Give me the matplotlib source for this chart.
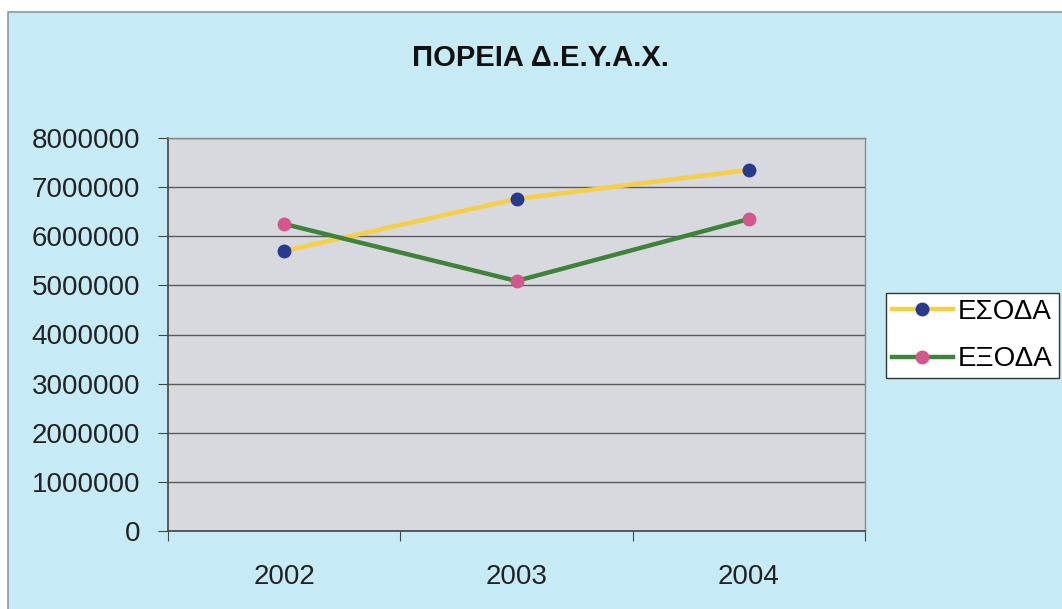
import matplotlib
matplotlib.use("Agg")
import matplotlib.pyplot as plt
from matplotlib.patches import Rectangle

# Data
years = ["2002", "2003", "2004"]
esoda = [5700000, 6760000, 7350000]
exoda = [6250000, 5090000, 6350000]
y_ticks = [0, 1000000, 2000000, 3000000, 4000000, 5000000, 6000000, 7000000, 8000000]

plt.rcParams['font.family'] = ['Liberation Sans', 'DejaVu Sans']

W, H = 1062, 609
fig = plt.figure(figsize=(W / 100, H / 100), dpi=100, facecolor='white')

# chart area background (scanned Excel chart)
bg = Rectangle((8 / W, -0.01), 1.0, 1 - 12 / H + 0.01,
               transform=fig.transFigure, facecolor='#c6ebf7',
               edgecolor='#8a9aa0', linewidth=1.2, zorder=-10)
fig.patches.append(bg)

ax = fig.add_axes([168 / W, 78 / H, 697 / W, 393 / H])
ax.set_facecolor('#d8d8df')

x = list(range(len(years)))
ax.plot(x, esoda, color='#f6cf45', linewidth=3.2, marker='o', markersize=9,
        markerfacecolor='#283a8e', markeredgecolor='#283a8e', label='ΕΣΟΔΑ', zorder=3)
ax.plot(x, exoda, color='#3f8239', linewidth=3.2, marker='o', markersize=9,
        markerfacecolor='#d3578e', markeredgecolor='#d3578e', label='ΕΞΟΔΑ', zorder=3)

ax.set_ylim(0, 8000000)
ax.set_yticks(y_ticks)
ax.set_yticklabels([str(v) for v in y_ticks], fontsize=20, color='#222222')
ax.yaxis.grid(True, color='#5a5a5a', linewidth=1.0)
ax.set_axisbelow(True)

ax.set_xlim(-0.5, len(years) - 0.5)
ax.set_xticks([i - 0.5 for i in range(len(years) + 1)])
ax.set_xticklabels([])
ax.set_xticks(x, minor=True)
ax.set_xticklabels(years, minor=True, fontsize=20, color='#222222')
ax.tick_params(axis='x', which='major', direction='out', length=7, color='#444444')
ax.tick_params(axis='x', which='minor', length=0, pad=24)
ax.tick_params(axis='y', direction='out', length=7, pad=13, color='#444444')

for side in ['top', 'right']:
    ax.spines[side].set_color('#8a8a8a')
    ax.spines[side].set_linewidth(1.0)
for side in ['left', 'bottom']:
    ax.spines[side].set_color('#444444')
    ax.spines[side].set_linewidth(1.2)

fig.text(540 / W, 1 - 58 / H, 'ΠΟΡΕΙΑ Δ.Ε.Υ.Α.Χ.', ha='center', va='center',
         fontsize=21, fontweight='bold', color='#111111')

leg = ax.legend(loc='upper left', bbox_to_anchor=(886 / W, 1 - 293 / H),
                bbox_transform=fig.transFigure, fontsize=20, frameon=True,
                fancybox=False, handlelength=2.2, handletextpad=0.2,
                borderpad=0.2, labelspacing=0.78, borderaxespad=0)
leg.get_frame().set_edgecolor('#333333')
leg.get_frame().set_facecolor('white')
leg.get_frame().set_linewidth(1.0)
leg.get_frame().set_alpha(1)

fig.savefig('out.png', dpi=100, facecolor=fig.get_facecolor())
